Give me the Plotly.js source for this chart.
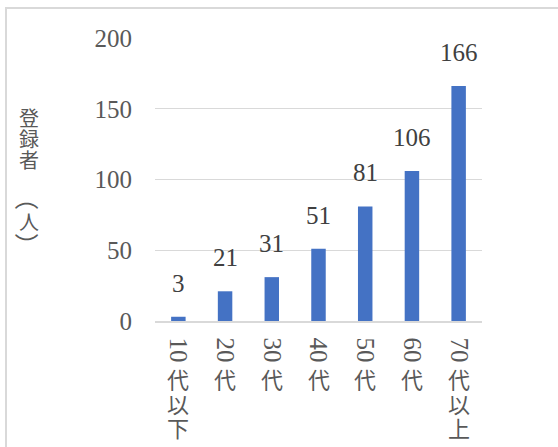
<!DOCTYPE html>
<html>
<head>
<meta charset="utf-8">
<script src="https://cdn.plot.ly/plotly-3.0.1.min.js"></script>
<style>
  html, body { margin: 0; padding: 0; background: #ffffff; }
  #wrap { position: relative; width: 558px; height: 447px; overflow: hidden; }
  #chart { position: absolute; left: 0; top: 0; width: 558px; height: 447px; }
  #frame { position: absolute; left: 5px; top: 7px; width: 620px; height: 520px;
           border: 2px solid #d9d9d9; pointer-events: none; }
</style>
</head>
<body>
<div id="wrap">
  <div id="chart"></div>
  <div id="frame"></div>
</div>
<script>
// Registered users by age group
const categories = ["10代以下", "20代", "30代", "40代", "50代", "60代", "70代以上"];
const values = [3, 21, 31, 51, 81, 106, 166];
const yTicks = [0, 50, 100, 150, 200];
const yTitleWord = ["登", "録", "者"];
const yTitleUnit = ["（", "人", "）"];

const SERIF = "Liberation Serif";
const CJK = "Noto Sans CJK JP";
const TICK_GRAY = "#595959";
const LABEL_GRAY = "#404040";
const BAR_BLUE = "#4472C4";

// Stack characters vertically: line pitch comes from the base font size,
// glyph size from the inner span.
function stack(chars, glyphPx) {
  return chars.map(ch => `<span style="font-size:${glyphPx}px">${ch}</span>`).join("<br>");
}

// Age digits become rotated axis tick labels; the kanji suffix is stacked beneath them
const digitParts = categories.map(c => c.match(/^\d+/)[0]);
const suffixParts = categories.map(c => c.replace(/^\d+/, "").split(""));

const annotations = [];

// Value labels above each bar
categories.forEach((c, i) => {
  annotations.push({
    x: c, y: values[i], xref: "x", yref: "y",
    text: String(values[i]), showarrow: false,
    yanchor: "bottom", yshift: 18,
    font: { family: SERIF, size: 25, color: LABEL_GRAY }
  });
});

// Kanji part of each category label, written top to bottom
suffixParts.forEach((chars, i) => {
  annotations.push({
    x: categories[i], y: 0, xref: "x", yref: "paper",
    text: stack(chars, 22), showarrow: false,
    xanchor: "center", yanchor: "top", borderpad: 0,
    yshift: -40,
    font: { family: CJK, size: 18.85, color: TICK_GRAY }
  });
});

// Vertical axis title: word stacked, then the unit with its brackets turned sideways
annotations.push({
  x: 0, y: 1, xref: "paper", yref: "paper",
  text: stack(yTitleWord, 20), showarrow: false,
  xanchor: "center", yanchor: "top", borderpad: 0,
  xshift: -126, yshift: -64,
  font: { family: CJK, size: 16.2, color: TICK_GRAY }
});
const unitShifts = [-160, -183, -207];
yTitleUnit.forEach((ch, k) => {
  const bracket = k !== 1;
  annotations.push({
    x: 0, y: 1, xref: "paper", yref: "paper",
    text: ch, showarrow: false,
    textangle: bracket ? 90 : 0,
    xanchor: "center", yanchor: "middle", borderpad: 0,
    xshift: -126, yshift: unitShifts[k],
    font: { family: CJK, size: bracket ? 24 : 20, color: TICK_GRAY }
  });
});

const trace = {
  type: "bar",
  x: categories,
  y: values,
  marker: { color: BAR_BLUE },
  hoverinfo: "x+y"
};

const layout = {
  width: 558, height: 447,
  margin: { l: 155, r: 76, t: 38, b: 126 },
  paper_bgcolor: "rgba(0,0,0,0)",
  plot_bgcolor: "rgba(0,0,0,0)",
  showlegend: false,
  bargap: 0.69,
  xaxis: {
    type: "category",
    tickvals: categories,
    ticktext: digitParts,
    tickangle: 90,
    tickfont: { family: SERIF, size: 25, color: TICK_GRAY },
    ticks: "",
    ticklabelstandoff: 10,
    showline: true, linecolor: "#d9d9d9", linewidth: 1.5,
    showgrid: false, zeroline: false, fixedrange: true
  },
  yaxis: {
    range: [0, 200],
    tickvals: yTicks,
    tickfont: { family: SERIF, size: 25, color: TICK_GRAY },
    ticks: "",
    ticklabelstandoff: 22,
    showgrid: true, gridcolor: "#d9d9d9", gridwidth: 1.2,
    showline: false, zeroline: false, fixedrange: true
  },
  annotations: annotations
};

Plotly.newPlot("chart", [trace], layout, { displayModeBar: false, staticPlot: true });
</script>
</body>
</html>
